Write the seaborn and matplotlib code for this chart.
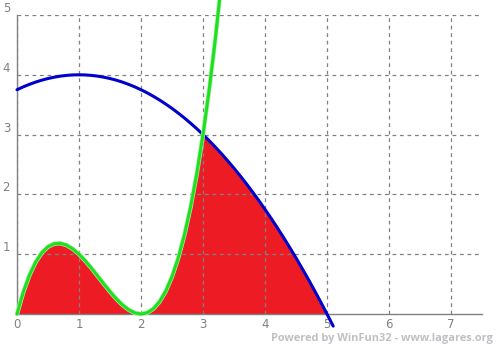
import numpy as np
import pandas as pd
import matplotlib
matplotlib.use("Agg")
import matplotlib.pyplot as plt
import seaborn as sns

# Green curve
x_green = [0.0, 0.1, 0.2, 0.3, 0.4, 0.5, 0.6, 0.7, 0.8, 0.9, 1.0, 1.1, 1.2, 1.3, 1.4,
           1.5, 1.6, 1.7, 1.8, 1.9, 2.0, 2.1, 2.2, 2.3, 2.4, 2.5, 2.6, 2.7, 2.8, 2.9,
           3.0, 3.1, 3.2, 3.3]
y_green = [0.0, 0.361, 0.648, 0.867, 1.024, 1.125, 1.176, 1.183, 1.152, 1.089, 1.0,
           0.891, 0.768, 0.637, 0.504, 0.375, 0.256, 0.153, 0.072, 0.019, 0.0, 0.021,
           0.088, 0.207, 0.384, 0.625, 0.936, 1.323, 1.792, 2.349, 3.0, 3.751, 4.608,
           5.577]

# Blue curve
x_blue = [0.0, 0.1, 0.2, 0.3, 0.4, 0.5, 0.6, 0.7, 0.8, 0.9, 1.0, 1.1, 1.2, 1.3, 1.4,
          1.5, 1.6, 1.7, 1.8, 1.9, 2.0, 2.1, 2.2, 2.3, 2.4, 2.5, 2.6, 2.7, 2.8, 2.9,
          3.0, 3.1, 3.2, 3.3, 3.4, 3.5, 3.6, 3.7, 3.8, 3.9, 4.0, 4.1, 4.2, 4.3, 4.4,
          4.5, 4.6, 4.7, 4.8, 4.9, 5.0, 5.1]
y_blue = [3.75, 3.798, 3.84, 3.878, 3.91, 3.938, 3.96, 3.978, 3.99, 3.998, 4.0, 3.998,
          3.99, 3.978, 3.96, 3.938, 3.91, 3.878, 3.84, 3.798, 3.75, 3.698, 3.64, 3.578,
          3.51, 3.438, 3.36, 3.278, 3.19, 3.098, 3.0, 2.898, 2.79, 2.678, 2.56, 2.438,
          2.31, 2.178, 2.04, 1.898, 1.75, 1.598, 1.44, 1.278, 1.11, 0.938, 0.76, 0.578,
          0.39, 0.198, 0.0, -0.203]

x_ticks = [0, 1, 2, 3, 4, 5, 6, 7]
y_ticks = [1, 2, 3, 4, 5]
watermark = "Powered by WinFun32 - www.lagares.org"

sns.set_style("white")
plt.rcParams["font.family"] = ["DejaVu Sans"]

W, H = 496, 344
fig = plt.figure(figsize=(W / 100, H / 100), dpi=100)
ax = fig.add_axes([17 / W, 30 / H, 465 / W, 299 / H])

gray = "#808080"

# fill region: under the lower of the two curves, above 0
dg = pd.DataFrame({"x": np.round(x_green, 2), "g": y_green})
db = pd.DataFrame({"x": np.round(x_blue, 2), "b": y_blue})
m = db.merge(dg, on="x", how="left")
m["g"] = m["g"].fillna(np.inf)
m["top"] = np.clip(np.minimum(m["b"], m["g"]), 0, None)
m = m[m["x"] <= 5.0]
ax.fill_between(m["x"], 0, m["top"], color="#ed1c24", linewidth=0, zorder=0.3)

sns.lineplot(x=x_blue, y=y_blue, color="#0000cc", linewidth=2.2, ax=ax,
             estimator=None, sort=False, clip_on=False, zorder=3)
sns.lineplot(x=x_green, y=y_green, color="#a8f0a8", linewidth=3.2, ax=ax,
             estimator=None, sort=False, clip_on=False, zorder=4)
sns.lineplot(x=x_green, y=y_green, color="#1ee01e", linewidth=2.2, ax=ax,
             estimator=None, sort=False, clip_on=False, zorder=5)

ax.set_xlim(0, 7.5)
ax.set_ylim(0, 5)
ax.set_xticks(x_ticks)
ax.set_yticks(y_ticks)
ax.set_xticklabels([str(t) for t in x_ticks])
ax.set_yticklabels([str(t) for t in y_ticks])
ax.set_axisbelow(True)
ax.grid(True, color=gray, linestyle=(0, (3, 3)), linewidth=0.9)
ax.tick_params(axis="both", length=0, labelcolor=gray, labelsize=8.5)
ax.tick_params(axis="x", pad=3)
ax.tick_params(axis="y", pad=5)
for lbl in ax.get_yticklabels():
    lbl.set_va("bottom")

for s in ["top", "right"]:
    ax.spines[s].set_visible(False)
for s in ["left", "bottom"]:
    ax.spines[s].set_color(gray)
    ax.spines[s].set_linewidth(1.0)
ax.set_xlabel("")
ax.set_ylabel("")

fig.text(493 / W, 0.5 / H, watermark, ha="right", va="bottom", color="#c0c0c4",
         fontsize=7.9, fontweight="bold", family=["Open Sans", "DejaVu Sans"])

fig.savefig("out.png", dpi=100)
